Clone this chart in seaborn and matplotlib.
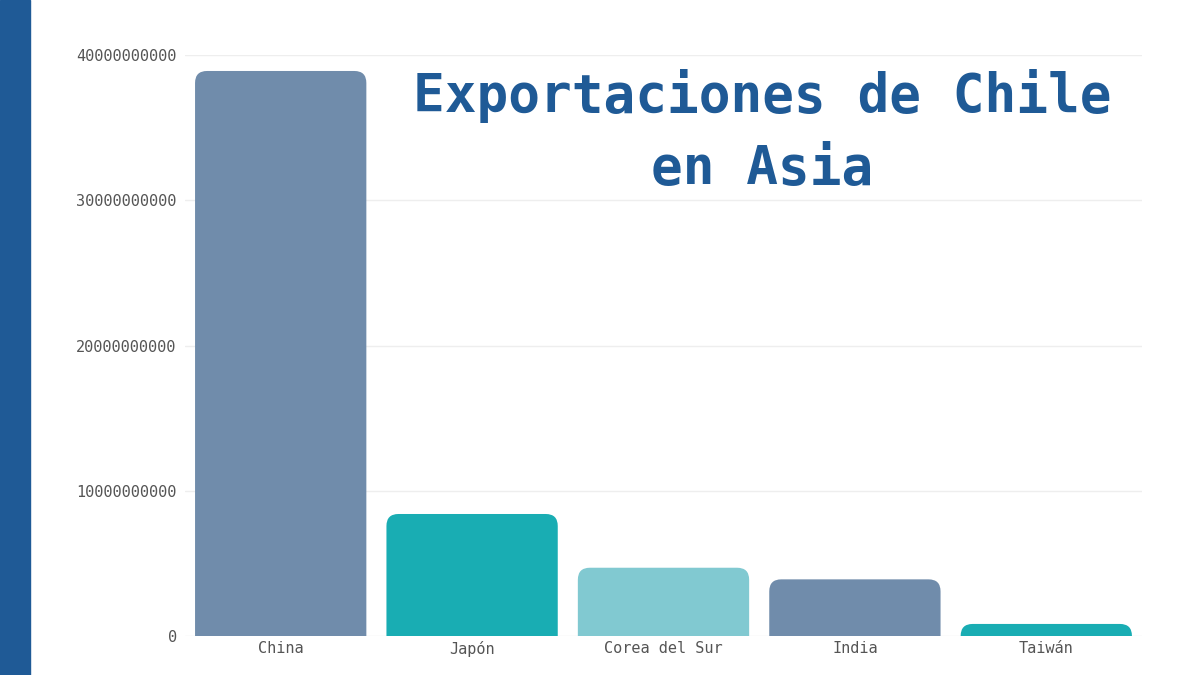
import matplotlib
matplotlib.use('Agg')
import pandas as pd
import seaborn as sb
import matplotlib.pyplot as plt
from matplotlib.patches import FancyBboxPatch, Rectangle

# data
countries = ['China', 'Japón', 'Corea del Sur', 'India', 'Taiwán']
exports = [38.9e9, 8.4e9, 4.7e9, 3.9e9, 0.83e9]
bar_colors = ['#668cb5', '#00c4cc', '#74d3de', '#668cb5', '#00c4cc']
y_ticks = [0, 10000000000, 20000000000, 30000000000, 40000000000]

df = pd.DataFrame({'pais': countries, 'valor': exports})

sb.set_style('white')
plt.rcParams['font.family'] = ['DejaVu Sans Mono', 'DejaVu Sans']

fig = plt.figure(figsize=(12, 6.75), dpi=100)
fig.patches.append(Rectangle((0, 0), 30 / 1200, 1, transform=fig.transFigure,
                             color='#1f5a96', zorder=0))
ax = fig.add_axes([185 / 1200, 1 - 636 / 675, 957 / 1200, 581 / 675])

g = sb.barplot(data=df, x='pais', y='valor', hue='pais', palette=bar_colors,
               width=0.895, legend=False, ax=ax, zorder=2)

# swap plain bars for rounded ones
px_x = 1 / 191.4
px_y = 40e9 / 581
for p in list(ax.patches):
    x0, w, h = p.get_x(), p.get_width(), p.get_height()
    fc = p.get_facecolor()
    p.set_visible(False)
    r = 12 * px_x
    ax.add_patch(FancyBboxPatch((x0, -30 * px_y), w, h + 30 * px_y,
                                boxstyle=f'round,pad=0,rounding_size={r}',
                                mutation_aspect=px_y / px_x,
                                facecolor=fc, edgecolor='none', zorder=2))

ax.set_ylim(0, 40e9)
ax.set_xlim(-0.5, 4.5)
ax.set_yticks(y_ticks, labels=[str(v) for v in y_ticks])
ax.yaxis.grid(True, color='#eeeeee', linewidth=1, zorder=0)
ax.set_axisbelow(True)
for s in ax.spines.values():
    s.set_visible(False)
ax.set_xlabel('')
ax.set_ylabel('')
ax.tick_params(axis='both', labelsize=11, colors='#555555', length=0)
ax.tick_params(axis='y', pad=6)

fig.text(762 / 1200, 1 - 132 / 675, 'Exportaciones de Chile\nen Asia',
         ha='center', va='center', fontsize=38, fontweight='bold',
         color='#1f5a96', linespacing=1.5)

fig.savefig('out.png', dpi=100)
plt.close('all')
